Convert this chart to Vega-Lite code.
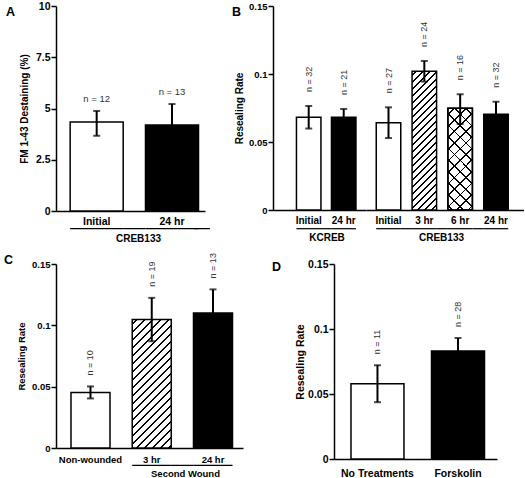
{
"$schema": "https://vega.github.io/schema/vega-lite/v6.json",
"padding": {"left": 4, "top": 1, "right": 0, "bottom": 0},
"autosize": {"type": "pad"},
"background": "white",
"config": {
  "view": {"stroke": null},
  "font": "Liberation Sans",
  "axis": {"domainColor": "black", "domainWidth": 1.5, "tickColor": "black", "tickWidth": 1.5, "labelFont": "Liberation Sans", "labelFontWeight": "bold", "labelColor": "black", "titleFont": "Liberation Sans", "titleFontWeight": "bold", "titleColor": "black", "grid": false},
  "axisX": {"ticks": false, "labelAngle": 0},
  "axisY": {"tickSize": 5, "labelPadding": 1, "labelExpr": "'' + datum.value"},
  "title": {"font": "Liberation Sans", "fontWeight": "bold", "fontSize": 12.5, "color": "black", "orient": "none", "anchor": "start", "frame": "group", "align": "left", "baseline": "top", "offset": 0}
},
"datasets": {
  "A": [
    {"cond": "Initial", "mean": 4.34, "lo": 3.67, "hi": 4.88, "label": "n = 12"},
    {"cond": "24 hr", "mean": 4.19, "lo": 3.16, "hi": 5.22, "label": "n = 13"}
  ],
  "B": [
    {"group": "KCREB", "cond": "Initial", "mean": 0.0682, "lo": 0.0599, "hi": 0.0765, "label": "n = 32"},
    {"group": "KCREB", "cond": "24 hr", "mean": 0.0682, "lo": 0.0621, "hi": 0.0743, "label": "n = 21"},
    {"group": "CREB133", "cond": "Initial", "mean": 0.0642, "lo": 0.0529, "hi": 0.0755, "label": "n = 27"},
    {"group": "CREB133", "cond": "3 hr", "mean": 0.102, "lo": 0.0944, "hi": 0.1096, "label": "n = 24"},
    {"group": "CREB133", "cond": "6 hr", "mean": 0.0748, "lo": 0.0633, "hi": 0.0851, "label": "n = 16"},
    {"group": "CREB133", "cond": "24 hr", "mean": 0.0704, "lo": 0.0612, "hi": 0.0796, "label": "n = 32"}
  ],
  "C": [
    {"cond": "Non-wounded", "mean": 0.0453, "lo": 0.0404, "hi": 0.0502, "label": "n = 10"},
    {"cond": "3 hr", "mean": 0.1047, "lo": 0.087, "hi": 0.1224, "label": "n = 19"},
    {"cond": "24 hr", "mean": 0.1101, "lo": 0.0909, "hi": 0.1293, "label": "n = 13"}
  ],
  "D": [
    {"cond": "No Treatments", "mean": 0.0579, "lo": 0.0437, "hi": 0.0721, "label": "n = 11"},
    {"cond": "Forskolin", "mean": 0.083, "lo": 0.0729, "hi": 0.0931, "label": "n = 28"}
  ]
},
"bounds": "full",
"spacing": 10,
"vconcat": [
  {"bounds": "flush", "spacing": 68, "hconcat": [
    {
      "width": 149, "height": 205,
      "title": {"text": "A", "dx": -50, "dy": 0},
      "data": {"name": "A"},
      "encoding": {
        "x": {"field": "cond", "type": "nominal", "title": "CREB133",
          "scale": {"domain": ["Initial", "24 hr"], "paddingInner": 0.296, "paddingOuter": 0.137, "align": 0.686},
          "axis": {"labelFontSize": 10.5, "labelPadding": 5, "titleFontSize": 10, "titleX": 82, "titleY": 27, "titleBaseline": "middle"}},
        "y": {"field": "mean", "type": "quantitative", "title": "FM 1-43 Destaining (%)",
          "scale": {"domain": [0, 10], "nice": false},
          "axis": {"values": [0, 2.5, 5, 7.5, 10], "labelFontSize": 10.5, "titleFontSize": 10, "titlePadding": 6}}
      },
      "layer": [
        {"transform": [{"filter": "datum.cond === 'Initial'"}], "mark": {"type": "bar", "fill": "white", "stroke": "black", "strokeWidth": 1.5}},
        {"transform": [{"filter": "datum.cond === '24 hr'"}], "mark": {"type": "bar", "fill": "black", "stroke": "black", "strokeWidth": 1.5}},
        {"mark": {"type": "errorbar", "color": "black", "thickness": 2, "size": 7, "ticks": true},
          "encoding": {"y": {"field": "lo", "type": "quantitative", "title": "FM 1-43 Destaining (%)", "scale": {"domain": [0, 10], "nice": false}}, "y2": {"field": "hi"}}},
        {"mark": {"type": "text", "fontSize": 9.5, "color": "#333", "baseline": "alphabetic", "dy": -9},
          "encoding": {"y": {"field": "hi", "type": "quantitative", "title": "FM 1-43 Destaining (%)", "scale": {"domain": [0, 10], "nice": false}}, "text": {"field": "label"}}},
        {"mark": {"type": "bar", "fill": "black", "clip": false},
          "encoding": {"y": {"datum": -0.83, "type": "quantitative", "scale": {"domain": [0, 10], "nice": false}}, "y2": {"datum": -0.89}}},
        {"transform": [{"filter": "datum.cond === 'Initial'"}], "mark": {"type": "bar", "fill": "black", "clip": false, "width": {"band": 0.42}, "xOffset": 37.65},
          "encoding": {"y": {"datum": -0.83, "type": "quantitative", "scale": {"domain": [0, 10], "nice": false}}, "y2": {"datum": -0.89}}},
        {"transform": [{"filter": "datum.cond === '24 hr'"}], "mark": {"type": "bar", "fill": "black", "clip": false, "width": {"band": 0.3}, "xOffset": 30},
          "encoding": {"y": {"datum": -0.83, "type": "quantitative", "scale": {"domain": [0, 10], "nice": false}}, "y2": {"datum": -0.89}}}
      ]
    },
    {"bounds": "flush", "spacing": 0, "hconcat": [
      {
        "width": 93, "height": 204,
        "title": {"text": "B", "dx": -41, "dy": 0},
        "data": {"name": "B"},
        "encoding": {
          "x": {"field": "cond", "type": "nominal", "title": "KCREB",
            "scale": {"domain": ["Initial", "24 hr"], "paddingInner": 0.3, "paddingOuter": 0.4786, "align": 0.7},
            "axis": {"labelFontSize": 10, "labelPadding": 5, "titleFontSize": 10, "titleX": 53.5, "titleY": 27, "titleBaseline": "middle"}},
          "y": {"field": "mean", "type": "quantitative", "title": "Resealing Rate",
            "scale": {"domain": [0, 0.15], "nice": false},
            "axis": {"values": [0, 0.05, 0.1, 0.15], "labelFontSize": 9.5, "titleFontSize": 10, "titlePadding": 4}}
        },
        "layer": [
          {"transform": [{"filter": "datum.group === 'KCREB' && datum.cond === 'Initial'"}], "mark": {"type": "bar", "fill": "white", "stroke": "black", "strokeWidth": 1.5}},
          {"transform": [{"filter": "datum.group === 'KCREB' && datum.cond === '24 hr'"}], "mark": {"type": "bar", "fill": "black", "stroke": "black", "strokeWidth": 1.5}},
          {"transform": [{"filter": "datum.group === 'KCREB'"}], "mark": {"type": "errorbar", "color": "black", "thickness": 2, "size": 7, "ticks": true},
            "encoding": {"y": {"field": "lo", "type": "quantitative", "title": "Resealing Rate", "scale": {"domain": [0, 0.15], "nice": false}}, "y2": {"field": "hi"}}},
          {"transform": [{"filter": "datum.group === 'KCREB'"}], "mark": {"type": "text", "fontSize": 9, "color": "#333", "angle": 270, "align": "left", "baseline": "middle", "dx": 14},
            "encoding": {"y": {"field": "hi", "type": "quantitative", "title": "Resealing Rate", "scale": {"domain": [0, 0.15], "nice": false}}, "text": {"field": "label"}}},
          {"transform": [{"filter": "datum.group === 'KCREB'"}], "mark": {"type": "bar", "fill": "black", "clip": false},
            "encoding": {"y": {"datum": -0.0133, "type": "quantitative", "scale": {"domain": [0, 0.15], "nice": false}}, "y2": {"datum": -0.0142}}},
          {"transform": [{"filter": "datum.group === 'KCREB' && datum.cond === 'Initial'"}], "mark": {"type": "bar", "fill": "black", "clip": false, "width": {"band": 0.4286}, "xOffset": 17.5},
            "encoding": {"y": {"datum": -0.0133, "type": "quantitative", "scale": {"domain": [0, 0.15], "nice": false}}, "y2": {"datum": -0.0142}}}
        ]
      },
      {
        "width": 158, "height": 204,
        "data": {"name": "B"},
        "encoding": {
          "x": {"field": "cond", "type": "nominal", "title": "CREB133",
            "scale": {"domain": ["Initial", "3 hr", "6 hr", "24 hr"], "paddingInner": 0.316, "paddingOuter": 0.363, "align": 0.394},
            "axis": {"labelFontSize": 10, "labelPadding": 5, "titleFontSize": 10, "titleX": 75, "titleY": 27, "titleBaseline": "middle"}},
          "y": {"field": "mean", "type": "quantitative", "axis": null,
            "scale": {"domain": [0, 0.15], "nice": false}}
        },
        "layer": [
          {"transform": [{"filter": "datum.group === 'CREB133' && datum.cond === 'Initial'"}], "mark": {"type": "bar", "fill": "white", "stroke": "black", "strokeWidth": 1.5}},
          {"transform": [{"filter": "datum.group === 'CREB133' && datum.cond === '24 hr'"}], "mark": {"type": "bar", "fill": "black", "stroke": "black", "strokeWidth": 1.5}},
          {"transform": [{"filter": "datum.group === 'CREB133' && datum.cond === '3 hr'"}], "mark": {"type": "bar", "stroke": "black", "strokeWidth": 1.5,
            "fill": {"gradient": "linear", "x1": 0, "y1": 0, "x2": 0.2015, "y2": 1.141, "stops": [
              {"offset":0.018,"color":"#fff"},{"offset":0.018,"color":"#000"},{"offset":0.029,"color":"#000"},{"offset":0.029,"color":"#fff"},
              {"offset":0.061,"color":"#fff"},{"offset":0.061,"color":"#000"},{"offset":0.072,"color":"#000"},{"offset":0.072,"color":"#fff"},
              {"offset":0.104,"color":"#fff"},{"offset":0.104,"color":"#000"},{"offset":0.115,"color":"#000"},{"offset":0.115,"color":"#fff"},
              {"offset":0.147,"color":"#fff"},{"offset":0.147,"color":"#000"},{"offset":0.158,"color":"#000"},{"offset":0.158,"color":"#fff"},
              {"offset":0.190,"color":"#fff"},{"offset":0.190,"color":"#000"},{"offset":0.201,"color":"#000"},{"offset":0.201,"color":"#fff"},
              {"offset":0.233,"color":"#fff"},{"offset":0.233,"color":"#000"},{"offset":0.244,"color":"#000"},{"offset":0.244,"color":"#fff"},
              {"offset":0.275,"color":"#fff"},{"offset":0.275,"color":"#000"},{"offset":0.286,"color":"#000"},{"offset":0.286,"color":"#fff"},
              {"offset":0.318,"color":"#fff"},{"offset":0.318,"color":"#000"},{"offset":0.329,"color":"#000"},{"offset":0.329,"color":"#fff"},
              {"offset":0.361,"color":"#fff"},{"offset":0.361,"color":"#000"},{"offset":0.372,"color":"#000"},{"offset":0.372,"color":"#fff"},
              {"offset":0.404,"color":"#fff"},{"offset":0.404,"color":"#000"},{"offset":0.415,"color":"#000"},{"offset":0.415,"color":"#fff"},
              {"offset":0.447,"color":"#fff"},{"offset":0.447,"color":"#000"},{"offset":0.458,"color":"#000"},{"offset":0.458,"color":"#fff"},
              {"offset":0.490,"color":"#fff"},{"offset":0.490,"color":"#000"},{"offset":0.501,"color":"#000"},{"offset":0.501,"color":"#fff"},
              {"offset":0.533,"color":"#fff"},{"offset":0.533,"color":"#000"},{"offset":0.544,"color":"#000"},{"offset":0.544,"color":"#fff"},
              {"offset":0.576,"color":"#fff"},{"offset":0.576,"color":"#000"},{"offset":0.587,"color":"#000"},{"offset":0.587,"color":"#fff"},
              {"offset":0.619,"color":"#fff"},{"offset":0.619,"color":"#000"},{"offset":0.630,"color":"#000"},{"offset":0.630,"color":"#fff"},
              {"offset":0.662,"color":"#fff"},{"offset":0.662,"color":"#000"},{"offset":0.673,"color":"#000"},{"offset":0.673,"color":"#fff"},
              {"offset":0.704,"color":"#fff"},{"offset":0.704,"color":"#000"},{"offset":0.715,"color":"#000"},{"offset":0.715,"color":"#fff"},
              {"offset":0.747,"color":"#fff"},{"offset":0.747,"color":"#000"},{"offset":0.758,"color":"#000"},{"offset":0.758,"color":"#fff"},
              {"offset":0.790,"color":"#fff"},{"offset":0.790,"color":"#000"},{"offset":0.801,"color":"#000"},{"offset":0.801,"color":"#fff"},
              {"offset":0.833,"color":"#fff"},{"offset":0.833,"color":"#000"},{"offset":0.844,"color":"#000"},{"offset":0.844,"color":"#fff"},
              {"offset":0.876,"color":"#fff"},{"offset":0.876,"color":"#000"},{"offset":0.887,"color":"#000"},{"offset":0.887,"color":"#fff"},
              {"offset":0.919,"color":"#fff"},{"offset":0.919,"color":"#000"},{"offset":0.930,"color":"#000"},{"offset":0.930,"color":"#fff"},
              {"offset":0.962,"color":"#fff"},{"offset":0.962,"color":"#000"},{"offset":0.973,"color":"#000"},{"offset":0.973,"color":"#fff"}
            ]}}},
          {"transform": [{"filter": "datum.group === 'CREB133' && datum.cond === '6 hr'"}], "mark": {"type": "bar", "stroke": "black", "strokeWidth": 1.5,
            "fill": {"gradient": "linear", "x1": 0, "y1": 0, "x2": 0.2837, "y2": 1.173, "stops": [
              {"offset":0.045,"color":"#fff"},{"offset":0.045,"color":"#000"},{"offset":0.059,"color":"#000"},{"offset":0.059,"color":"#fff"},
              {"offset":0.136,"color":"#fff"},{"offset":0.136,"color":"#000"},{"offset":0.150,"color":"#000"},{"offset":0.150,"color":"#fff"},
              {"offset":0.228,"color":"#fff"},{"offset":0.228,"color":"#000"},{"offset":0.242,"color":"#000"},{"offset":0.242,"color":"#fff"},
              {"offset":0.319,"color":"#fff"},{"offset":0.319,"color":"#000"},{"offset":0.333,"color":"#000"},{"offset":0.333,"color":"#fff"},
              {"offset":0.411,"color":"#fff"},{"offset":0.411,"color":"#000"},{"offset":0.425,"color":"#000"},{"offset":0.425,"color":"#fff"},
              {"offset":0.502,"color":"#fff"},{"offset":0.502,"color":"#000"},{"offset":0.516,"color":"#000"},{"offset":0.516,"color":"#fff"},
              {"offset":0.593,"color":"#fff"},{"offset":0.593,"color":"#000"},{"offset":0.607,"color":"#000"},{"offset":0.607,"color":"#fff"},
              {"offset":0.685,"color":"#fff"},{"offset":0.685,"color":"#000"},{"offset":0.699,"color":"#000"},{"offset":0.699,"color":"#fff"},
              {"offset":0.776,"color":"#fff"},{"offset":0.776,"color":"#000"},{"offset":0.790,"color":"#000"},{"offset":0.790,"color":"#fff"},
              {"offset":0.868,"color":"#fff"},{"offset":0.868,"color":"#000"},{"offset":0.882,"color":"#000"},{"offset":0.882,"color":"#fff"},
              {"offset":0.959,"color":"#fff"},{"offset":0.959,"color":"#000"},{"offset":0.973,"color":"#000"},{"offset":0.973,"color":"#fff"}
            ]}}},
          {"transform": [{"filter": "datum.group === 'CREB133' && datum.cond === '6 hr'"}], "mark": {"type": "bar", "stroke": "black", "strokeWidth": 1.5,
            "fill": {"gradient": "linear", "x1": 1, "y1": 0, "x2": 0.7163, "y2": 1.173, "stops": [
              {"offset":0.045,"color":"rgba(255,255,255,0)"},{"offset":0.045,"color":"#000"},{"offset":0.059,"color":"#000"},{"offset":0.059,"color":"rgba(255,255,255,0)"},
              {"offset":0.136,"color":"rgba(255,255,255,0)"},{"offset":0.136,"color":"#000"},{"offset":0.150,"color":"#000"},{"offset":0.150,"color":"rgba(255,255,255,0)"},
              {"offset":0.228,"color":"rgba(255,255,255,0)"},{"offset":0.228,"color":"#000"},{"offset":0.242,"color":"#000"},{"offset":0.242,"color":"rgba(255,255,255,0)"},
              {"offset":0.319,"color":"rgba(255,255,255,0)"},{"offset":0.319,"color":"#000"},{"offset":0.333,"color":"#000"},{"offset":0.333,"color":"rgba(255,255,255,0)"},
              {"offset":0.411,"color":"rgba(255,255,255,0)"},{"offset":0.411,"color":"#000"},{"offset":0.425,"color":"#000"},{"offset":0.425,"color":"rgba(255,255,255,0)"},
              {"offset":0.502,"color":"rgba(255,255,255,0)"},{"offset":0.502,"color":"#000"},{"offset":0.516,"color":"#000"},{"offset":0.516,"color":"rgba(255,255,255,0)"},
              {"offset":0.593,"color":"rgba(255,255,255,0)"},{"offset":0.593,"color":"#000"},{"offset":0.607,"color":"#000"},{"offset":0.607,"color":"rgba(255,255,255,0)"},
              {"offset":0.685,"color":"rgba(255,255,255,0)"},{"offset":0.685,"color":"#000"},{"offset":0.699,"color":"#000"},{"offset":0.699,"color":"rgba(255,255,255,0)"},
              {"offset":0.776,"color":"rgba(255,255,255,0)"},{"offset":0.776,"color":"#000"},{"offset":0.790,"color":"#000"},{"offset":0.790,"color":"rgba(255,255,255,0)"},
              {"offset":0.868,"color":"rgba(255,255,255,0)"},{"offset":0.868,"color":"#000"},{"offset":0.882,"color":"#000"},{"offset":0.882,"color":"rgba(255,255,255,0)"},
              {"offset":0.959,"color":"rgba(255,255,255,0)"},{"offset":0.959,"color":"#000"},{"offset":0.973,"color":"#000"},{"offset":0.973,"color":"rgba(255,255,255,0)"}
            ]}}},
          {"transform": [{"filter": "datum.group === 'CREB133'"}], "mark": {"type": "errorbar", "color": "black", "thickness": 2, "size": 7, "ticks": true},
            "encoding": {"y": {"field": "lo", "type": "quantitative", "axis": null, "scale": {"domain": [0, 0.15], "nice": false}}, "y2": {"field": "hi"}}},
          {"transform": [{"filter": "datum.group === 'CREB133'"}], "mark": {"type": "text", "fontSize": 9, "color": "#333", "angle": 270, "align": "left", "baseline": "middle", "dx": 14},
            "encoding": {"y": {"field": "hi", "type": "quantitative", "axis": null, "scale": {"domain": [0, 0.15], "nice": false}}, "text": {"field": "label"}}},
          {"transform": [{"filter": "datum.group === 'CREB133'"}], "mark": {"type": "bar", "fill": "black", "clip": false},
            "encoding": {"y": {"datum": -0.0133, "type": "quantitative", "axis": null, "scale": {"domain": [0, 0.15], "nice": false}}, "y2": {"datum": -0.0142}}},
          {"transform": [{"filter": "datum.group === 'CREB133' && datum.cond !== '24 hr'"}], "mark": {"type": "bar", "fill": "black", "clip": false, "width": {"band": 0.4625}, "xOffset": 17.9},
            "encoding": {"y": {"datum": -0.0133, "type": "quantitative", "axis": null, "scale": {"domain": [0, 0.15], "nice": false}}, "y2": {"datum": -0.0142}}}
        ]
      }
    ]}
  ]},
  {"bounds": "flush", "spacing": 91, "hconcat": [
    {
      "width": 187, "height": 184,
      "title": {"text": "C", "dx": -52, "dy": -10},
      "data": {"name": "C"},
      "encoding": {
        "x": {"field": "cond", "type": "nominal", "title": "Second Wound",
          "scale": {"domain": ["Non-wounded", "3 hr", "24 hr"], "paddingInner": 0.363, "paddingOuter": 0.208, "align": 0.588},
          "axis": {"labelFontSize": 9.5, "labelPadding": 6, "titleFontSize": 9.5, "titleX": 129, "titleY": 25, "titleBaseline": "middle"}},
        "y": {"field": "mean", "type": "quantitative", "title": "Resealing Rate",
          "scale": {"domain": [0, 0.15], "nice": false},
          "axis": {"values": [0, 0.05, 0.1, 0.15], "labelFontSize": 9.5, "titleFontSize": 9.5, "titlePadding": 5}}
      },
      "layer": [
        {"transform": [{"filter": "datum.cond === 'Non-wounded'"}], "mark": {"type": "bar", "fill": "white", "stroke": "black", "strokeWidth": 1.5}},
        {"transform": [{"filter": "datum.cond === '24 hr'"}], "mark": {"type": "bar", "fill": "black", "stroke": "black", "strokeWidth": 1.5}},
        {"transform": [{"filter": "datum.cond === '3 hr'"}], "mark": {"type": "bar", "stroke": "black", "strokeWidth": 1.5,
          "fill": {"gradient": "linear", "x1": 0, "y1": 0, "x2": 0.3625, "y2": 1.193, "stops": [
            {"offset":0.024,"color":"#fff"},{"offset":0.024,"color":"#000"},{"offset":0.035,"color":"#000"},{"offset":0.035,"color":"#fff"},
            {"offset":0.072,"color":"#fff"},{"offset":0.072,"color":"#000"},{"offset":0.083,"color":"#000"},{"offset":0.083,"color":"#fff"},
            {"offset":0.120,"color":"#fff"},{"offset":0.120,"color":"#000"},{"offset":0.131,"color":"#000"},{"offset":0.131,"color":"#fff"},
            {"offset":0.167,"color":"#fff"},{"offset":0.167,"color":"#000"},{"offset":0.178,"color":"#000"},{"offset":0.178,"color":"#fff"},
            {"offset":0.215,"color":"#fff"},{"offset":0.215,"color":"#000"},{"offset":0.226,"color":"#000"},{"offset":0.226,"color":"#fff"},
            {"offset":0.263,"color":"#fff"},{"offset":0.263,"color":"#000"},{"offset":0.274,"color":"#000"},{"offset":0.274,"color":"#fff"},
            {"offset":0.311,"color":"#fff"},{"offset":0.311,"color":"#000"},{"offset":0.322,"color":"#000"},{"offset":0.322,"color":"#fff"},
            {"offset":0.359,"color":"#fff"},{"offset":0.359,"color":"#000"},{"offset":0.370,"color":"#000"},{"offset":0.370,"color":"#fff"},
            {"offset":0.406,"color":"#fff"},{"offset":0.406,"color":"#000"},{"offset":0.417,"color":"#000"},{"offset":0.417,"color":"#fff"},
            {"offset":0.454,"color":"#fff"},{"offset":0.454,"color":"#000"},{"offset":0.465,"color":"#000"},{"offset":0.465,"color":"#fff"},
            {"offset":0.502,"color":"#fff"},{"offset":0.502,"color":"#000"},{"offset":0.513,"color":"#000"},{"offset":0.513,"color":"#fff"},
            {"offset":0.550,"color":"#fff"},{"offset":0.550,"color":"#000"},{"offset":0.561,"color":"#000"},{"offset":0.561,"color":"#fff"},
            {"offset":0.598,"color":"#fff"},{"offset":0.598,"color":"#000"},{"offset":0.609,"color":"#000"},{"offset":0.609,"color":"#fff"},
            {"offset":0.645,"color":"#fff"},{"offset":0.645,"color":"#000"},{"offset":0.656,"color":"#000"},{"offset":0.656,"color":"#fff"},
            {"offset":0.693,"color":"#fff"},{"offset":0.693,"color":"#000"},{"offset":0.704,"color":"#000"},{"offset":0.704,"color":"#fff"},
            {"offset":0.741,"color":"#fff"},{"offset":0.741,"color":"#000"},{"offset":0.752,"color":"#000"},{"offset":0.752,"color":"#fff"},
            {"offset":0.789,"color":"#fff"},{"offset":0.789,"color":"#000"},{"offset":0.800,"color":"#000"},{"offset":0.800,"color":"#fff"},
            {"offset":0.837,"color":"#fff"},{"offset":0.837,"color":"#000"},{"offset":0.848,"color":"#000"},{"offset":0.848,"color":"#fff"},
            {"offset":0.884,"color":"#fff"},{"offset":0.884,"color":"#000"},{"offset":0.895,"color":"#000"},{"offset":0.895,"color":"#fff"},
            {"offset":0.932,"color":"#fff"},{"offset":0.932,"color":"#000"},{"offset":0.943,"color":"#000"},{"offset":0.943,"color":"#fff"},
            {"offset":0.980,"color":"#fff"},{"offset":0.980,"color":"#000"},{"offset":0.991,"color":"#000"},{"offset":0.991,"color":"#fff"}
          ]}}},
        {"mark": {"type": "errorbar", "color": "black", "thickness": 2, "size": 7, "ticks": true},
          "encoding": {"y": {"field": "lo", "type": "quantitative", "title": "Resealing Rate", "scale": {"domain": [0, 0.15], "nice": false}}, "y2": {"field": "hi"}}},
        {"mark": {"type": "text", "fontSize": 9, "color": "#333", "angle": 270, "align": "left", "baseline": "middle", "dx": 11},
          "encoding": {"y": {"field": "hi", "type": "quantitative", "title": "Resealing Rate", "scale": {"domain": [0, 0.15], "nice": false}}, "text": {"field": "label"}}},
        {"transform": [{"filter": "datum.cond !== 'Non-wounded'"}], "mark": {"type": "bar", "fill": "black", "clip": false},
          "encoding": {"y": {"datum": -0.0137, "type": "quantitative", "scale": {"domain": [0, 0.15], "nice": false}}, "y2": {"datum": -0.0147}}},
        {"transform": [{"filter": "datum.cond === '3 hr'"}], "mark": {"type": "bar", "fill": "black", "clip": false, "width": {"band": 0.57}, "xOffset": 30.6},
          "encoding": {"y": {"datum": -0.0137, "type": "quantitative", "scale": {"domain": [0, 0.15], "nice": false}}, "y2": {"datum": -0.0147}}}
      ]
    },
    {
      "width": 163, "height": 195,
      "title": {"text": "D", "dx": -62, "dy": -3},
      "data": {"name": "D"},
      "encoding": {
        "x": {"field": "cond", "type": "nominal", "title": null,
          "scale": {"domain": ["No Treatments", "Forskolin"], "paddingInner": 0.342, "paddingOuter": 0.183, "align": 0.576},
          "axis": {"labelFontSize": 10.5, "labelPadding": 9}},
        "y": {"field": "mean", "type": "quantitative", "title": "Resealing Rate",
          "scale": {"domain": [0, 0.15], "nice": false},
          "axis": {"values": [0, 0.05, 0.1, 0.15], "labelFontSize": 10.5, "titleFontSize": 10.5, "titlePadding": 2}}
      },
      "layer": [
        {"transform": [{"filter": "datum.cond === 'No Treatments'"}], "mark": {"type": "bar", "fill": "white", "stroke": "black", "strokeWidth": 1.5}},
        {"transform": [{"filter": "datum.cond === 'Forskolin'"}], "mark": {"type": "bar", "fill": "black", "stroke": "black", "strokeWidth": 1.5}},
        {"mark": {"type": "errorbar", "color": "black", "thickness": 2, "size": 7, "ticks": true},
          "encoding": {"y": {"field": "lo", "type": "quantitative", "title": "Resealing Rate", "scale": {"domain": [0, 0.15], "nice": false}}, "y2": {"field": "hi"}}},
        {"mark": {"type": "text", "fontSize": 9, "color": "#333", "angle": 270, "align": "left", "baseline": "middle", "dx": 11},
          "encoding": {"y": {"field": "hi", "type": "quantitative", "title": "Resealing Rate", "scale": {"domain": [0, 0.15], "nice": false}}, "text": {"field": "label"}}}
      ]
    }
  ]}
]
}
